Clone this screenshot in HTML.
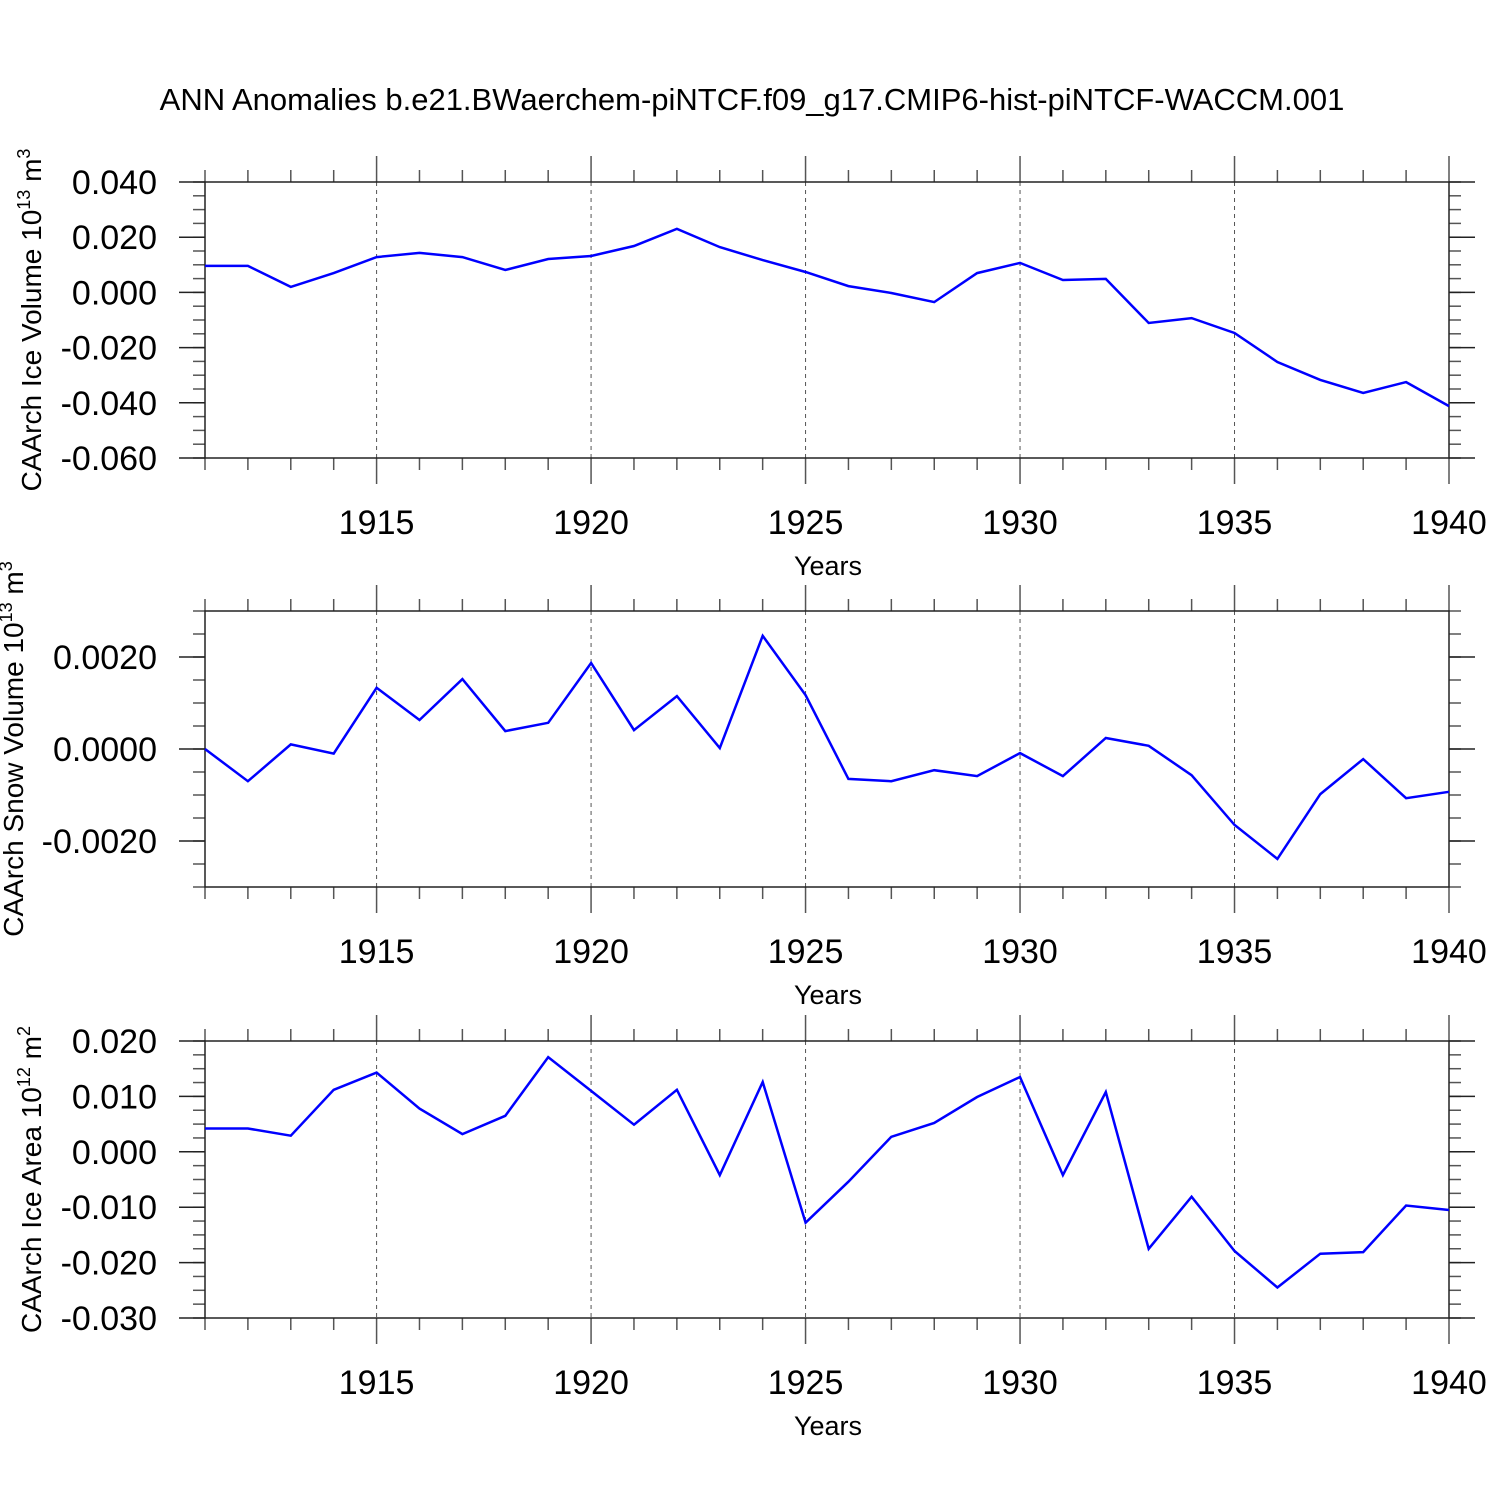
<!DOCTYPE html>
<html><head><meta charset="utf-8"><style>
html,body{margin:0;padding:0;background:#fff}
svg{display:block;font-family:"Liberation Sans",sans-serif}
</style></head><body>
<svg id="chart" width="1500" height="1500" viewBox="0 0 1500 1500" xmlns="http://www.w3.org/2000/svg">
<text x="752" y="110" font-size="31" text-anchor="middle">ANN Anomalies b.e21.BWaerchem-piNTCF.f09_g17.CMIP6-hist-piNTCF-WACCM.001</text>
</svg>
<script>
const years = [1911,1912,1913,1914,1915,1916,1917,1918,1919,1920,1921,1922,1923,1924,1925,1926,1927,1928,1929,1930,1931,1932,1933,1934,1935,1936,1937,1938,1939,1940];
const iceVolume = [0.0096,0.0096,0.002,0.007,0.0128,0.0143,0.0128,0.0081,0.0121,0.0132,0.0168,0.023,0.0164,0.0117,0.0074,0.0023,-0.0002,-0.0035,0.007,0.0107,0.0045,0.0049,-0.0111,-0.0093,-0.0147,-0.0252,-0.0317,-0.0364,-0.0325,-0.0412];
const snowVolume = [0,-0.0007,0.0001,-0.0001,0.00133,0.00063,0.00152,0.00039,0.00057,0.00187,0.00041,0.00115,0.00002,0.00246,0.00117,-0.00065,-0.0007,-0.00046,-0.00059,-0.00009,-0.00059,0.00024,0.00007,-0.00057,-0.00165,-0.00239,-0.00098,-0.00022,-0.00107,-0.00093];
const iceArea = [0.0042,0.0042,0.0029,0.0112,0.0143,0.0078,0.0032,0.0065,0.0171,0.011,0.0049,0.0112,-0.0042,0.0126,-0.0128,-0.0054,0.0027,0.0052,0.0099,0.0135,-0.0042,0.0108,-0.0175,-0.0081,-0.0179,-0.0245,-0.0184,-0.0181,-0.0097,-0.0105];
const xTickYears = [1915,1920,1925,1930,1935,1940];
const iceVolTicks = [0.04,0.02,0,-0.02,-0.04,-0.06];
const snowTicks = [0.002,0,-0.002];
const areaTicks = [0.02,0.01,0,-0.01,-0.02,-0.03];

const NS="http://www.w3.org/2000/svg";
const svg=document.getElementById('chart');
function el(tag,attrs,parent){const e=document.createElementNS(NS,tag);for(const k in attrs)e.setAttribute(k,attrs[k]);(parent||svg).appendChild(e);return e;}
const L=205,R=1449,X0=1911,X1=1940;
const xs=v=>L+(v-X0)/(X1-X0)*(R-L);

const panels=[
 {name:'ice-volume',top:182,bot:458,ymin:-0.06,ymax:0.04,data:iceVolume,ticks:iceVolTicks,dec:3,minor:0.005,title:'CAArch Ice Volume 10',sup:'13',unit:' m',usup:'3',tx:40},
 {name:'snow-volume',top:611,bot:887,ymin:-0.003,ymax:0.003,data:snowVolume,ticks:snowTicks,dec:4,minor:0.0005,title:'CAArch Snow Volume 10',sup:'13',unit:' m',usup:'3',tx:22},
 {name:'ice-area',top:1041,bot:1318,ymin:-0.03,ymax:0.02,data:iceArea,ticks:areaTicks,dec:3,minor:0.0025,title:'CAArch Ice Area 10',sup:'12',unit:' m',usup:'2',tx:40}
];
panels.forEach(p=>{
 const g=el('g',{});
 
 
 const ys=v=>p.bot-(v-p.ymin)/(p.ymax-p.ymin)*(p.bot-p.top);
 xTickYears.forEach(y=>{
  const gl=el('line',{x1:xs(y),x2:xs(y),y1:p.top,y2:p.bot,stroke:'#555','stroke-width':1,'stroke-dasharray':'4,4'},g);
  
  
 });
 years.forEach(y=>{
  const maj=xTickYears.includes(y);const len=maj?26:12;
  el('line',{x1:xs(y),x2:xs(y),y1:p.top-len,y2:p.top,stroke:'#555','stroke-width':1.5},g);
  el('line',{x1:xs(y),x2:xs(y),y1:p.bot,y2:p.bot+len,stroke:'#555','stroke-width':1.5},g);
 });
 xTickYears.forEach(y=>{
  const t=el('text',{x:xs(y),y:p.bot+76,'font-size':34,'text-anchor':'middle'},g);
  t.textContent=y;
  
  
 });
 const n=Math.round((p.ymax-p.ymin)/p.minor);
 for(let i=0;i<=n;i++){
  const v=p.ymin+i*p.minor;const yy=ys(v);
  el('line',{x1:L-12,x2:L,y1:yy,y2:yy,stroke:'#555','stroke-width':1.5},g);
  el('line',{x1:R,x2:R+12,y1:yy,y2:yy,stroke:'#555','stroke-width':1.5},g);
 }
 p.ticks.forEach(v=>{
  const yy=ys(v);
  el('line',{x1:L-26,x2:L,y1:yy,y2:yy,stroke:'#222','stroke-width':1.5},g);
  el('line',{x1:R,x2:R+26,y1:yy,y2:yy,stroke:'#222','stroke-width':1.5},g);
  const t=el('text',{x:157,y:yy+12,'font-size':34,'text-anchor':'end'},g);
  t.textContent=v.toFixed(p.dec).replace(/^-0\.0+$/,'0.'+'0'.repeat(p.dec));
  
  
 });
 const box=el('rect',{x:L,y:p.top,width:R-L,height:p.bot-p.top,fill:'none',stroke:'#222','stroke-width':1.5},g);
 
 
 const pts=p.data.map((v,i)=>xs(years[i]).toFixed(1)+','+ys(v).toFixed(1)).join(' ');
 const line=el('polyline',{points:pts,fill:'none',stroke:'#0000ff','stroke-width':2.5,'stroke-linejoin':'miter'},g);
 
 
 const xt=el('text',{x:828,y:p.bot+117,'font-size':27,'text-anchor':'middle'},g);
 xt.textContent='Years';
 
 
 const cy=(p.top+p.bot)/2;
 const yt=el('text',{x:0,y:0,'font-size':28,'text-anchor':'middle',transform:`translate(${p.tx+1},${cy}) rotate(-90)`},g);
 
 
 const a=el('tspan',{},yt);a.textContent=p.title;
 const b=el('tspan',{dy:-11,'font-size':18},yt);b.textContent=p.sup;
 const c=el('tspan',{dy:11},yt);c.textContent=p.unit;
 const d=el('tspan',{dy:-11,'font-size':18},yt);d.textContent=p.usup;
});
</script>
</body></html>
